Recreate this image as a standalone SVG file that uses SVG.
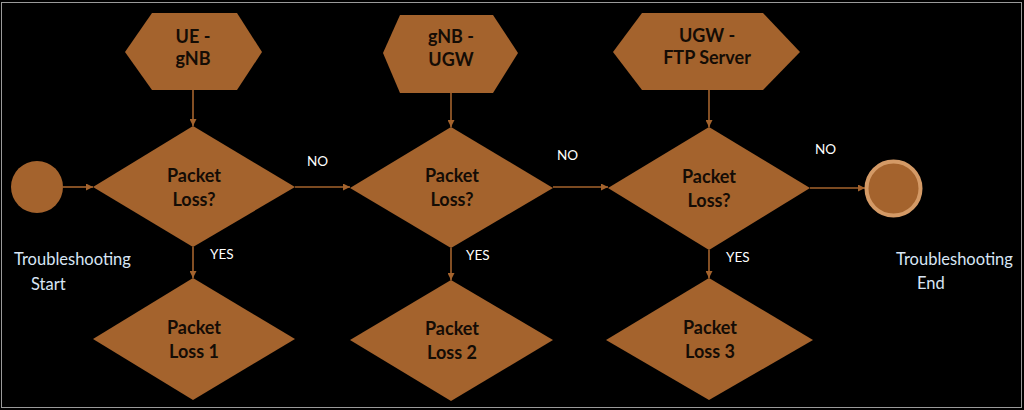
<svg xmlns="http://www.w3.org/2000/svg" width="1024" height="410" viewBox="0 0 1024 410">
<style>
.shape{fill:#a4632d;}
.lbl{font-family:"Lato","Liberation Sans",sans-serif;font-weight:bold;font-size:18px;fill:#140c05;text-anchor:middle;}
.edge{stroke:#a4632d;stroke-width:1.6;fill:none;marker-end:url(#ah);}
.elbl{font-family:"Lato","Liberation Sans",sans-serif;font-size:13.5px;fill:#ffffff;}
.term{font-family:"Lato","Liberation Sans",sans-serif;font-size:16.5px;fill:#d8e6f5;}
</style>
<defs>
<marker id="ah" viewBox="0 0 10 10" refX="10" refY="5" markerWidth="7" markerHeight="7" markerUnits="userSpaceOnUse" orient="auto">
<path d="M0,0 L10,5 L0,10 z" fill="#a4632d"/>
</marker>
</defs>
<rect x="0" y="0" width="1024" height="410" fill="#000"/>
<rect x="1.5" y="2.5" width="1020" height="405" fill="none" stroke="#9a9a9a" stroke-width="1"/>

<g id="connectors">
<line class="edge" x1="193" y1="90" x2="193" y2="126"/>
<line class="edge" x1="451" y1="93" x2="451" y2="127"/>
<line class="edge" x1="709" y1="90" x2="709" y2="127"/>
<line class="edge" x1="63" y1="187" x2="93" y2="187"/>
<line class="edge" x1="295" y1="187" x2="350" y2="187"/>
<line class="edge" x1="553" y1="187" x2="608" y2="187"/>
<line class="edge" x1="810" y1="188" x2="865" y2="188"/>
<line class="edge" x1="193" y1="247" x2="193" y2="278"/>
<line class="edge" x1="451" y1="248" x2="451" y2="280"/>
<line class="edge" x1="709" y1="250" x2="709" y2="278"/>
<text class="elbl" x="307" y="166">NO</text>
<text class="elbl" x="557" y="160">NO</text>
<text class="elbl" x="815" y="154">NO</text>
<text class="elbl" x="210" y="259">YES</text>
<text class="elbl" x="466" y="260">YES</text>
<text class="elbl" x="726" y="262">YES</text>
</g>

<g id="start">
<circle class="shape" cx="37" cy="187" r="26"/>
<text class="term" x="14" y="265">Troubleshooting</text>
<text class="term" x="31" y="290">Start</text>
</g>

<g id="end">
<circle cx="893.5" cy="188.5" r="27" fill="#a4632d" stroke="#d49a66" stroke-width="4"/>
<text class="term" x="896" y="265">Troubleshooting</text>
<text class="term" x="917" y="289">End</text>
</g>

<g id="seg1">
<polygon class="shape" points="125,52 152,13 237,13 262,52 237,90 152,90"/>
<text class="lbl" x="193" y="43">UE -</text>
<text class="lbl" x="193" y="65">gNB</text>
</g>
<g id="seg2">
<polygon class="shape" points="383,53 400,15 493,15 518,53 493,93 400,93"/>
<text class="lbl" x="451" y="43">gNB -</text>
<text class="lbl" x="451" y="66">UGW</text>
</g>
<g id="seg3">
<polygon class="shape" points="613,52 642,13 763,13 800,52 763,90 642,90"/>
<text class="lbl" x="707" y="42">UGW -</text>
<text class="lbl" x="707" y="64">FTP Server</text>
</g>

<g id="check1">
<polygon class="shape" points="193,126 295,187 193,247 93,187"/>
<text class="lbl" x="194" y="182">Packet</text>
<text class="lbl" x="194" y="206">Loss?</text>
</g>
<g id="check2">
<polygon class="shape" points="451,127 553,188 451,248 350,188"/>
<text class="lbl" x="452" y="182">Packet</text>
<text class="lbl" x="452" y="206">Loss?</text>
</g>
<g id="check3">
<polygon class="shape" points="709,127 810,188 709,250 608,188"/>
<text class="lbl" x="709" y="183">Packet</text>
<text class="lbl" x="709" y="207">Loss?</text>
</g>

<g id="loss1">
<polygon class="shape" points="193,278 295,339 193,400 93,339"/>
<text class="lbl" x="194" y="334">Packet</text>
<text class="lbl" x="194" y="358">Loss 1</text>
</g>
<g id="loss2">
<polygon class="shape" points="451,280 553,340 451,401 350,340"/>
<text class="lbl" x="452" y="335">Packet</text>
<text class="lbl" x="452" y="359">Loss 2</text>
</g>
<g id="loss3">
<polygon class="shape" points="709,278 813,340 709,400 606,340"/>
<text class="lbl" x="710" y="334">Packet</text>
<text class="lbl" x="710" y="358">Loss 3</text>
</g>
</svg>
